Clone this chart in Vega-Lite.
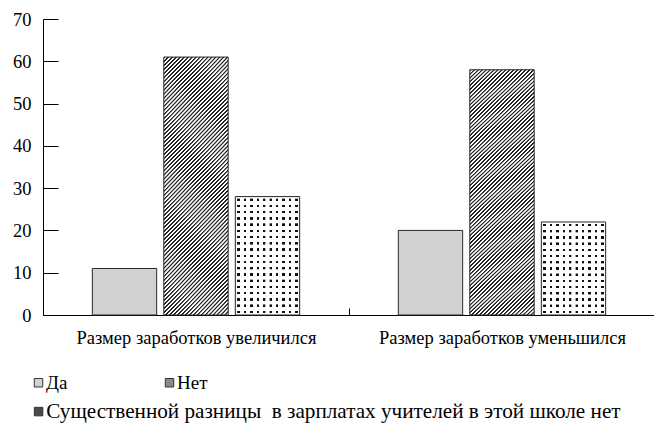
{
  "$schema": "https://vega.github.io/schema/vega-lite/v6.json",
  "width": 612,
  "height": 296,
  "autosize": "none",
  "padding": {"left": 43, "top": 19, "right": 0, "bottom": 113},
  "background": "white",
  "config": {"view": {"stroke": null}, "font": "Liberation Serif"},
  "data": {"values": [
    {"group": "Размер заработков увеличился", "answer": "Да", "value": 11},
    {"group": "Размер заработков увеличился", "answer": "Нет", "value": 61},
    {"group": "Размер заработков увеличился", "answer": "Существенной разницы\u00a0 в зарплатах учителей в этой школе нет", "value": 28},
    {"group": "Размер заработков уменьшился", "answer": "Да", "value": 20},
    {"group": "Размер заработков уменьшился", "answer": "Нет", "value": 58},
    {"group": "Размер заработков уменьшился", "answer": "Существенной разницы\u00a0 в зарплатах учителей в этой школе нет", "value": 22}
  ]},
  "encoding": {
    "x": {"field": "group", "type": "nominal", "sort": null,
      "scale": {"domain": ["Размер заработков увеличился", "Размер заработков уменьшился"], "paddingInner": 0, "paddingOuter": 0},
      "axis": {"title": null, "labelAngle": 0, "labelLimit": 500, "tickBand": "extent", "tickSize": -7, "labelPadding": 20, "domainColor": "#000", "tickColor": "#000", "domainWidth": 1, "tickWidth": 1, "labelFont": "Liberation Serif", "labelFontSize": 18.5, "labelColor": "#000"}},
    "xOffset": {"field": "answer", "type": "nominal",
      "scale": {"domain": ["Да", "Нет", "Существенной разницы\u00a0 в зарплатах учителей в этой школе нет"], "paddingInner": 0.1, "paddingOuter": 0.69}},
    "y": {"field": "value", "type": "quantitative",
      "scale": {"domain": [0, 70], "nice": false},
      "axis": {"title": null, "values": [0, 10, 20, 30, 40, 50, 60, 70], "grid": false, "tickSize": -15, "labelPadding": 27, "domainColor": "#000", "tickColor": "#000", "domainWidth": 1, "tickWidth": 1, "labelFont": "Liberation Serif", "labelFontSize": 18.5, "labelColor": "#000"}}
  },
  "layer": [
    {
      "transform": [{"filter": "datum.answer === 'Да' || datum.answer === 'Нет'"}],
      "mark": {"type": "bar"},
      "encoding": {
        "fill": {"field": "answer", "type": "nominal",
          "scale": {"domain": ["Да", "Нет"], "range": ["#d1d1d3", "#8a8a8a"]},
          "legend": {"title": null, "orient": "none", "legendX": -14, "legendY": 354, "direction": "horizontal", "columnPadding": 92, "symbolType": "square", "symbolSize": 72, "symbolStrokeColor": "#333", "symbolStrokeWidth": 1, "symbolOpacity": 1, "labelFont": "Liberation Serif", "labelFontSize": 19, "labelColor": "#000", "labelLimit": 800, "labelOffset": -2}}
      }
    },
    {
      "transform": [{"filter": "datum.answer !== 'Да' && datum.answer !== 'Нет'"}],
      "mark": {"type": "bar"},
      "encoding": {
        "color": {"field": "answer", "type": "nominal",
          "scale": {"domain": ["Существенной разницы\u00a0 в зарплатах учителей в этой школе нет"], "range": ["#4a4a4a"]},
          "legend": {"title": null, "orient": "none", "legendX": -15, "legendY": 382, "direction": "horizontal", "symbolType": "square", "symbolSize": 72, "symbolStrokeColor": "#333", "symbolStrokeWidth": 1, "symbolOpacity": 1, "labelFont": "Liberation Serif", "labelFontSize": 21.2, "labelColor": "#000", "labelLimit": 800, "labelOffset": -3}}
      }
    },
    {
      "transform": [{"filter": "datum.answer === 'Нет'"}],
      "mark": {"type": "bar", "fill": {"gradient": "linear", "x1": 0, "y1": 0, "x2": 0.301, "y2": 1.1786, "stops": [
{"offset":0,"color":"#222"},{"offset":0.004,"color":"#222"},{"offset":0.006,"color":"#fff"},{"offset":0.011,"color":"#fff"},
{"offset":0.0125,"color":"#222"},{"offset":0.0165,"color":"#222"},{"offset":0.0185,"color":"#fff"},{"offset":0.0235,"color":"#fff"},
{"offset":0.025,"color":"#222"},{"offset":0.029,"color":"#222"},{"offset":0.031,"color":"#fff"},{"offset":0.036,"color":"#fff"},
{"offset":0.0375,"color":"#222"},{"offset":0.0415,"color":"#222"},{"offset":0.0435,"color":"#fff"},{"offset":0.0485,"color":"#fff"},
{"offset":0.05,"color":"#222"},{"offset":0.054,"color":"#222"},{"offset":0.056,"color":"#fff"},{"offset":0.061,"color":"#fff"},
{"offset":0.0625,"color":"#222"},{"offset":0.0665,"color":"#222"},{"offset":0.0685,"color":"#fff"},{"offset":0.0735,"color":"#fff"},
{"offset":0.075,"color":"#222"},{"offset":0.079,"color":"#222"},{"offset":0.081,"color":"#fff"},{"offset":0.086,"color":"#fff"},
{"offset":0.0875,"color":"#222"},{"offset":0.0915,"color":"#222"},{"offset":0.0935,"color":"#fff"},{"offset":0.0985,"color":"#fff"},
{"offset":0.1,"color":"#222"},{"offset":0.104,"color":"#222"},{"offset":0.106,"color":"#fff"},{"offset":0.111,"color":"#fff"},
{"offset":0.1125,"color":"#222"},{"offset":0.1165,"color":"#222"},{"offset":0.1185,"color":"#fff"},{"offset":0.1235,"color":"#fff"},
{"offset":0.125,"color":"#222"},{"offset":0.129,"color":"#222"},{"offset":0.131,"color":"#fff"},{"offset":0.136,"color":"#fff"},
{"offset":0.1375,"color":"#222"},{"offset":0.1415,"color":"#222"},{"offset":0.1435,"color":"#fff"},{"offset":0.1485,"color":"#fff"},
{"offset":0.15,"color":"#222"},{"offset":0.154,"color":"#222"},{"offset":0.156,"color":"#fff"},{"offset":0.161,"color":"#fff"},
{"offset":0.1625,"color":"#222"},{"offset":0.1665,"color":"#222"},{"offset":0.1685,"color":"#fff"},{"offset":0.1735,"color":"#fff"},
{"offset":0.175,"color":"#222"},{"offset":0.179,"color":"#222"},{"offset":0.181,"color":"#fff"},{"offset":0.186,"color":"#fff"},
{"offset":0.1875,"color":"#222"},{"offset":0.1915,"color":"#222"},{"offset":0.1935,"color":"#fff"},{"offset":0.1985,"color":"#fff"},
{"offset":0.2,"color":"#222"},{"offset":0.204,"color":"#222"},{"offset":0.206,"color":"#fff"},{"offset":0.211,"color":"#fff"},
{"offset":0.2125,"color":"#222"},{"offset":0.2165,"color":"#222"},{"offset":0.2185,"color":"#fff"},{"offset":0.2235,"color":"#fff"},
{"offset":0.225,"color":"#222"},{"offset":0.229,"color":"#222"},{"offset":0.231,"color":"#fff"},{"offset":0.236,"color":"#fff"},
{"offset":0.2375,"color":"#222"},{"offset":0.2415,"color":"#222"},{"offset":0.2435,"color":"#fff"},{"offset":0.2485,"color":"#fff"},
{"offset":0.25,"color":"#222"},{"offset":0.254,"color":"#222"},{"offset":0.256,"color":"#fff"},{"offset":0.261,"color":"#fff"},
{"offset":0.2625,"color":"#222"},{"offset":0.2665,"color":"#222"},{"offset":0.2685,"color":"#fff"},{"offset":0.2735,"color":"#fff"},
{"offset":0.275,"color":"#222"},{"offset":0.279,"color":"#222"},{"offset":0.281,"color":"#fff"},{"offset":0.286,"color":"#fff"},
{"offset":0.2875,"color":"#222"},{"offset":0.2915,"color":"#222"},{"offset":0.2935,"color":"#fff"},{"offset":0.2985,"color":"#fff"},
{"offset":0.3,"color":"#222"},{"offset":0.304,"color":"#222"},{"offset":0.306,"color":"#fff"},{"offset":0.311,"color":"#fff"},
{"offset":0.3125,"color":"#222"},{"offset":0.3165,"color":"#222"},{"offset":0.3185,"color":"#fff"},{"offset":0.3235,"color":"#fff"},
{"offset":0.325,"color":"#222"},{"offset":0.329,"color":"#222"},{"offset":0.331,"color":"#fff"},{"offset":0.336,"color":"#fff"},
{"offset":0.3375,"color":"#222"},{"offset":0.3415,"color":"#222"},{"offset":0.3435,"color":"#fff"},{"offset":0.3485,"color":"#fff"},
{"offset":0.35,"color":"#222"},{"offset":0.354,"color":"#222"},{"offset":0.356,"color":"#fff"},{"offset":0.361,"color":"#fff"},
{"offset":0.3625,"color":"#222"},{"offset":0.3665,"color":"#222"},{"offset":0.3685,"color":"#fff"},{"offset":0.3735,"color":"#fff"},
{"offset":0.375,"color":"#222"},{"offset":0.379,"color":"#222"},{"offset":0.381,"color":"#fff"},{"offset":0.386,"color":"#fff"},
{"offset":0.3875,"color":"#222"},{"offset":0.3915,"color":"#222"},{"offset":0.3935,"color":"#fff"},{"offset":0.3985,"color":"#fff"},
{"offset":0.4,"color":"#222"},{"offset":0.404,"color":"#222"},{"offset":0.406,"color":"#fff"},{"offset":0.411,"color":"#fff"},
{"offset":0.4125,"color":"#222"},{"offset":0.4165,"color":"#222"},{"offset":0.4185,"color":"#fff"},{"offset":0.4235,"color":"#fff"},
{"offset":0.425,"color":"#222"},{"offset":0.429,"color":"#222"},{"offset":0.431,"color":"#fff"},{"offset":0.436,"color":"#fff"},
{"offset":0.4375,"color":"#222"},{"offset":0.4415,"color":"#222"},{"offset":0.4435,"color":"#fff"},{"offset":0.4485,"color":"#fff"},
{"offset":0.45,"color":"#222"},{"offset":0.454,"color":"#222"},{"offset":0.456,"color":"#fff"},{"offset":0.461,"color":"#fff"},
{"offset":0.4625,"color":"#222"},{"offset":0.4665,"color":"#222"},{"offset":0.4685,"color":"#fff"},{"offset":0.4735,"color":"#fff"},
{"offset":0.475,"color":"#222"},{"offset":0.479,"color":"#222"},{"offset":0.481,"color":"#fff"},{"offset":0.486,"color":"#fff"},
{"offset":0.4875,"color":"#222"},{"offset":0.4915,"color":"#222"},{"offset":0.4935,"color":"#fff"},{"offset":0.4985,"color":"#fff"},
{"offset":0.5,"color":"#222"},{"offset":0.504,"color":"#222"},{"offset":0.506,"color":"#fff"},{"offset":0.511,"color":"#fff"},
{"offset":0.5125,"color":"#222"},{"offset":0.5165,"color":"#222"},{"offset":0.5185,"color":"#fff"},{"offset":0.5235,"color":"#fff"},
{"offset":0.525,"color":"#222"},{"offset":0.529,"color":"#222"},{"offset":0.531,"color":"#fff"},{"offset":0.536,"color":"#fff"},
{"offset":0.5375,"color":"#222"},{"offset":0.5415,"color":"#222"},{"offset":0.5435,"color":"#fff"},{"offset":0.5485,"color":"#fff"},
{"offset":0.55,"color":"#222"},{"offset":0.554,"color":"#222"},{"offset":0.556,"color":"#fff"},{"offset":0.561,"color":"#fff"},
{"offset":0.5625,"color":"#222"},{"offset":0.5665,"color":"#222"},{"offset":0.5685,"color":"#fff"},{"offset":0.5735,"color":"#fff"},
{"offset":0.575,"color":"#222"},{"offset":0.579,"color":"#222"},{"offset":0.581,"color":"#fff"},{"offset":0.586,"color":"#fff"},
{"offset":0.5875,"color":"#222"},{"offset":0.5915,"color":"#222"},{"offset":0.5935,"color":"#fff"},{"offset":0.5985,"color":"#fff"},
{"offset":0.6,"color":"#222"},{"offset":0.604,"color":"#222"},{"offset":0.606,"color":"#fff"},{"offset":0.611,"color":"#fff"},
{"offset":0.6125,"color":"#222"},{"offset":0.6165,"color":"#222"},{"offset":0.6185,"color":"#fff"},{"offset":0.6235,"color":"#fff"},
{"offset":0.625,"color":"#222"},{"offset":0.629,"color":"#222"},{"offset":0.631,"color":"#fff"},{"offset":0.636,"color":"#fff"},
{"offset":0.6375,"color":"#222"},{"offset":0.6415,"color":"#222"},{"offset":0.6435,"color":"#fff"},{"offset":0.6485,"color":"#fff"},
{"offset":0.65,"color":"#222"},{"offset":0.654,"color":"#222"},{"offset":0.656,"color":"#fff"},{"offset":0.661,"color":"#fff"},
{"offset":0.6625,"color":"#222"},{"offset":0.6665,"color":"#222"},{"offset":0.6685,"color":"#fff"},{"offset":0.6735,"color":"#fff"},
{"offset":0.675,"color":"#222"},{"offset":0.679,"color":"#222"},{"offset":0.681,"color":"#fff"},{"offset":0.686,"color":"#fff"},
{"offset":0.6875,"color":"#222"},{"offset":0.6915,"color":"#222"},{"offset":0.6935,"color":"#fff"},{"offset":0.6985,"color":"#fff"},
{"offset":0.7,"color":"#222"},{"offset":0.704,"color":"#222"},{"offset":0.706,"color":"#fff"},{"offset":0.711,"color":"#fff"},
{"offset":0.7125,"color":"#222"},{"offset":0.7165,"color":"#222"},{"offset":0.7185,"color":"#fff"},{"offset":0.7235,"color":"#fff"},
{"offset":0.725,"color":"#222"},{"offset":0.729,"color":"#222"},{"offset":0.731,"color":"#fff"},{"offset":0.736,"color":"#fff"},
{"offset":0.7375,"color":"#222"},{"offset":0.7415,"color":"#222"},{"offset":0.7435,"color":"#fff"},{"offset":0.7485,"color":"#fff"},
{"offset":0.75,"color":"#222"},{"offset":0.754,"color":"#222"},{"offset":0.756,"color":"#fff"},{"offset":0.761,"color":"#fff"},
{"offset":0.7625,"color":"#222"},{"offset":0.7665,"color":"#222"},{"offset":0.7685,"color":"#fff"},{"offset":0.7735,"color":"#fff"},
{"offset":0.775,"color":"#222"},{"offset":0.779,"color":"#222"},{"offset":0.781,"color":"#fff"},{"offset":0.786,"color":"#fff"},
{"offset":0.7875,"color":"#222"},{"offset":0.7915,"color":"#222"},{"offset":0.7935,"color":"#fff"},{"offset":0.7985,"color":"#fff"},
{"offset":0.8,"color":"#222"},{"offset":0.804,"color":"#222"},{"offset":0.806,"color":"#fff"},{"offset":0.811,"color":"#fff"},
{"offset":0.8125,"color":"#222"},{"offset":0.8165,"color":"#222"},{"offset":0.8185,"color":"#fff"},{"offset":0.8235,"color":"#fff"},
{"offset":0.825,"color":"#222"},{"offset":0.829,"color":"#222"},{"offset":0.831,"color":"#fff"},{"offset":0.836,"color":"#fff"},
{"offset":0.8375,"color":"#222"},{"offset":0.8415,"color":"#222"},{"offset":0.8435,"color":"#fff"},{"offset":0.8485,"color":"#fff"},
{"offset":0.85,"color":"#222"},{"offset":0.854,"color":"#222"},{"offset":0.856,"color":"#fff"},{"offset":0.861,"color":"#fff"},
{"offset":0.8625,"color":"#222"},{"offset":0.8665,"color":"#222"},{"offset":0.8685,"color":"#fff"},{"offset":0.8735,"color":"#fff"},
{"offset":0.875,"color":"#222"},{"offset":0.879,"color":"#222"},{"offset":0.881,"color":"#fff"},{"offset":0.886,"color":"#fff"},
{"offset":0.8875,"color":"#222"},{"offset":0.8915,"color":"#222"},{"offset":0.8935,"color":"#fff"},{"offset":0.8985,"color":"#fff"},
{"offset":0.9,"color":"#222"},{"offset":0.904,"color":"#222"},{"offset":0.906,"color":"#fff"},{"offset":0.911,"color":"#fff"},
{"offset":0.9125,"color":"#222"},{"offset":0.9165,"color":"#222"},{"offset":0.9185,"color":"#fff"},{"offset":0.9235,"color":"#fff"},
{"offset":0.925,"color":"#222"},{"offset":0.929,"color":"#222"},{"offset":0.931,"color":"#fff"},{"offset":0.936,"color":"#fff"},
{"offset":0.9375,"color":"#222"},{"offset":0.9415,"color":"#222"},{"offset":0.9435,"color":"#fff"},{"offset":0.9485,"color":"#fff"},
{"offset":0.95,"color":"#222"},{"offset":0.954,"color":"#222"},{"offset":0.956,"color":"#fff"},{"offset":0.961,"color":"#fff"},
{"offset":0.9625,"color":"#222"},{"offset":0.9665,"color":"#222"},{"offset":0.9685,"color":"#fff"},{"offset":0.9735,"color":"#fff"},
{"offset":0.975,"color":"#222"},{"offset":0.979,"color":"#222"},{"offset":0.981,"color":"#fff"},{"offset":0.986,"color":"#fff"},
{"offset":0.9875,"color":"#222"},{"offset":0.9915,"color":"#222"},{"offset":0.9935,"color":"#fff"},{"offset":0.9985,"color":"#fff"}
      ]}}
    },
    {
      "transform": [{"filter": "datum.answer !== 'Да' && datum.answer !== 'Нет'"}],
      "mark": {"type": "bar", "fill": "#111"}
    },
    {
      "transform": [{"filter": "datum.answer !== 'Да' && datum.answer !== 'Нет'"}],
      "mark": {"type": "bar", "fill": {"gradient": "linear", "x1": 0, "y1": 0, "x2": 1, "y2": 0, "stops": [
{"offset":0.03,"color":"#fff"},{"offset":0.033,"color":"rgba(255,255,255,0)"},{"offset":0.067,"color":"rgba(255,255,255,0)"},{"offset":0.07,"color":"#fff"},
{"offset":0.13,"color":"#fff"},{"offset":0.133,"color":"rgba(255,255,255,0)"},{"offset":0.167,"color":"rgba(255,255,255,0)"},{"offset":0.17,"color":"#fff"},
{"offset":0.23,"color":"#fff"},{"offset":0.233,"color":"rgba(255,255,255,0)"},{"offset":0.267,"color":"rgba(255,255,255,0)"},{"offset":0.27,"color":"#fff"},
{"offset":0.33,"color":"#fff"},{"offset":0.333,"color":"rgba(255,255,255,0)"},{"offset":0.367,"color":"rgba(255,255,255,0)"},{"offset":0.37,"color":"#fff"},
{"offset":0.43,"color":"#fff"},{"offset":0.433,"color":"rgba(255,255,255,0)"},{"offset":0.467,"color":"rgba(255,255,255,0)"},{"offset":0.47,"color":"#fff"},
{"offset":0.53,"color":"#fff"},{"offset":0.533,"color":"rgba(255,255,255,0)"},{"offset":0.567,"color":"rgba(255,255,255,0)"},{"offset":0.57,"color":"#fff"},
{"offset":0.63,"color":"#fff"},{"offset":0.633,"color":"rgba(255,255,255,0)"},{"offset":0.667,"color":"rgba(255,255,255,0)"},{"offset":0.67,"color":"#fff"},
{"offset":0.73,"color":"#fff"},{"offset":0.733,"color":"rgba(255,255,255,0)"},{"offset":0.767,"color":"rgba(255,255,255,0)"},{"offset":0.77,"color":"#fff"},
{"offset":0.83,"color":"#fff"},{"offset":0.833,"color":"rgba(255,255,255,0)"},{"offset":0.867,"color":"rgba(255,255,255,0)"},{"offset":0.87,"color":"#fff"},
{"offset":0.93,"color":"#fff"},{"offset":0.933,"color":"rgba(255,255,255,0)"},{"offset":0.967,"color":"rgba(255,255,255,0)"},{"offset":0.97,"color":"#fff"}
      ]}}
    },
    {
      "transform": [{"filter": "datum.answer !== 'Да' && datum.answer !== 'Нет' && datum.group === 'Размер заработков увеличился'"}],
      "mark": {"type": "bar", "fill": {"gradient": "linear", "x1": 0, "y1": 0, "x2": 0, "y2": 1, "stops": [
{"offset":0.0153,"color":"#fff"},{"offset":0.0173,"color":"rgba(255,255,255,0)"},{"offset":0.0353,"color":"rgba(255,255,255,0)"},{"offset":0.0373,"color":"#fff"},
{"offset":0.0679,"color":"#fff"},{"offset":0.0699,"color":"rgba(255,255,255,0)"},{"offset":0.0879,"color":"rgba(255,255,255,0)"},{"offset":0.0899,"color":"#fff"},
{"offset":0.1206,"color":"#fff"},{"offset":0.1226,"color":"rgba(255,255,255,0)"},{"offset":0.1406,"color":"rgba(255,255,255,0)"},{"offset":0.1426,"color":"#fff"},
{"offset":0.1732,"color":"#fff"},{"offset":0.1752,"color":"rgba(255,255,255,0)"},{"offset":0.1932,"color":"rgba(255,255,255,0)"},{"offset":0.1952,"color":"#fff"},
{"offset":0.2258,"color":"#fff"},{"offset":0.2278,"color":"rgba(255,255,255,0)"},{"offset":0.2458,"color":"rgba(255,255,255,0)"},{"offset":0.2478,"color":"#fff"},
{"offset":0.2785,"color":"#fff"},{"offset":0.2805,"color":"rgba(255,255,255,0)"},{"offset":0.2985,"color":"rgba(255,255,255,0)"},{"offset":0.3005,"color":"#fff"},
{"offset":0.3311,"color":"#fff"},{"offset":0.3331,"color":"rgba(255,255,255,0)"},{"offset":0.3511,"color":"rgba(255,255,255,0)"},{"offset":0.3531,"color":"#fff"},
{"offset":0.3837,"color":"#fff"},{"offset":0.3857,"color":"rgba(255,255,255,0)"},{"offset":0.4037,"color":"rgba(255,255,255,0)"},{"offset":0.4057,"color":"#fff"},
{"offset":0.4364,"color":"#fff"},{"offset":0.4384,"color":"rgba(255,255,255,0)"},{"offset":0.4564,"color":"rgba(255,255,255,0)"},{"offset":0.4584,"color":"#fff"},
{"offset":0.489,"color":"#fff"},{"offset":0.491,"color":"rgba(255,255,255,0)"},{"offset":0.509,"color":"rgba(255,255,255,0)"},{"offset":0.511,"color":"#fff"},
{"offset":0.5416,"color":"#fff"},{"offset":0.5436,"color":"rgba(255,255,255,0)"},{"offset":0.5616,"color":"rgba(255,255,255,0)"},{"offset":0.5636,"color":"#fff"},
{"offset":0.5943,"color":"#fff"},{"offset":0.5963,"color":"rgba(255,255,255,0)"},{"offset":0.6143,"color":"rgba(255,255,255,0)"},{"offset":0.6163,"color":"#fff"},
{"offset":0.6469,"color":"#fff"},{"offset":0.6489,"color":"rgba(255,255,255,0)"},{"offset":0.6669,"color":"rgba(255,255,255,0)"},{"offset":0.6689,"color":"#fff"},
{"offset":0.6995,"color":"#fff"},{"offset":0.7015,"color":"rgba(255,255,255,0)"},{"offset":0.7195,"color":"rgba(255,255,255,0)"},{"offset":0.7215,"color":"#fff"},
{"offset":0.7522,"color":"#fff"},{"offset":0.7542,"color":"rgba(255,255,255,0)"},{"offset":0.7722,"color":"rgba(255,255,255,0)"},{"offset":0.7742,"color":"#fff"},
{"offset":0.8048,"color":"#fff"},{"offset":0.8068,"color":"rgba(255,255,255,0)"},{"offset":0.8248,"color":"rgba(255,255,255,0)"},{"offset":0.8268,"color":"#fff"},
{"offset":0.8574,"color":"#fff"},{"offset":0.8594,"color":"rgba(255,255,255,0)"},{"offset":0.8774,"color":"rgba(255,255,255,0)"},{"offset":0.8794,"color":"#fff"},
{"offset":0.9101,"color":"#fff"},{"offset":0.9121,"color":"rgba(255,255,255,0)"},{"offset":0.9301,"color":"rgba(255,255,255,0)"},{"offset":0.9321,"color":"#fff"},
{"offset":0.9627,"color":"#fff"},{"offset":0.9647,"color":"rgba(255,255,255,0)"},{"offset":0.9827,"color":"rgba(255,255,255,0)"},{"offset":0.9847,"color":"#fff"}
      ]}}
    },
    {
      "transform": [{"filter": "datum.answer !== 'Да' && datum.answer !== 'Нет' && datum.group === 'Размер заработков уменьшился'"}],
      "mark": {"type": "bar", "fill": {"gradient": "linear", "x1": 0, "y1": 0, "x2": 0, "y2": 1, "stops": [
{"offset":0.0193,"color":"#fff"},{"offset":0.0218,"color":"rgba(255,255,255,0)"},{"offset":0.0448,"color":"rgba(255,255,255,0)"},{"offset":0.0473,"color":"#fff"},
{"offset":0.086,"color":"#fff"},{"offset":0.0885,"color":"rgba(255,255,255,0)"},{"offset":0.1115,"color":"rgba(255,255,255,0)"},{"offset":0.114,"color":"#fff"},
{"offset":0.1527,"color":"#fff"},{"offset":0.1552,"color":"rgba(255,255,255,0)"},{"offset":0.1782,"color":"rgba(255,255,255,0)"},{"offset":0.1807,"color":"#fff"},
{"offset":0.2193,"color":"#fff"},{"offset":0.2218,"color":"rgba(255,255,255,0)"},{"offset":0.2448,"color":"rgba(255,255,255,0)"},{"offset":0.2473,"color":"#fff"},
{"offset":0.286,"color":"#fff"},{"offset":0.2885,"color":"rgba(255,255,255,0)"},{"offset":0.3115,"color":"rgba(255,255,255,0)"},{"offset":0.314,"color":"#fff"},
{"offset":0.3527,"color":"#fff"},{"offset":0.3552,"color":"rgba(255,255,255,0)"},{"offset":0.3782,"color":"rgba(255,255,255,0)"},{"offset":0.3807,"color":"#fff"},
{"offset":0.4193,"color":"#fff"},{"offset":0.4218,"color":"rgba(255,255,255,0)"},{"offset":0.4448,"color":"rgba(255,255,255,0)"},{"offset":0.4473,"color":"#fff"},
{"offset":0.486,"color":"#fff"},{"offset":0.4885,"color":"rgba(255,255,255,0)"},{"offset":0.5115,"color":"rgba(255,255,255,0)"},{"offset":0.514,"color":"#fff"},
{"offset":0.5527,"color":"#fff"},{"offset":0.5552,"color":"rgba(255,255,255,0)"},{"offset":0.5782,"color":"rgba(255,255,255,0)"},{"offset":0.5807,"color":"#fff"},
{"offset":0.6193,"color":"#fff"},{"offset":0.6218,"color":"rgba(255,255,255,0)"},{"offset":0.6448,"color":"rgba(255,255,255,0)"},{"offset":0.6473,"color":"#fff"},
{"offset":0.686,"color":"#fff"},{"offset":0.6885,"color":"rgba(255,255,255,0)"},{"offset":0.7115,"color":"rgba(255,255,255,0)"},{"offset":0.714,"color":"#fff"},
{"offset":0.7527,"color":"#fff"},{"offset":0.7552,"color":"rgba(255,255,255,0)"},{"offset":0.7782,"color":"rgba(255,255,255,0)"},{"offset":0.7807,"color":"#fff"},
{"offset":0.8193,"color":"#fff"},{"offset":0.8218,"color":"rgba(255,255,255,0)"},{"offset":0.8448,"color":"rgba(255,255,255,0)"},{"offset":0.8473,"color":"#fff"},
{"offset":0.886,"color":"#fff"},{"offset":0.8885,"color":"rgba(255,255,255,0)"},{"offset":0.9115,"color":"rgba(255,255,255,0)"},{"offset":0.914,"color":"#fff"},
{"offset":0.9527,"color":"#fff"},{"offset":0.9552,"color":"rgba(255,255,255,0)"},{"offset":0.9782,"color":"rgba(255,255,255,0)"},{"offset":0.9807,"color":"#fff"}
      ]}}
    },
    {
      "mark": {"type": "bar", "fill": "#fff", "fillOpacity": 0, "stroke": "#2a2a2a", "strokeWidth": 1}
    }
  ]
}
